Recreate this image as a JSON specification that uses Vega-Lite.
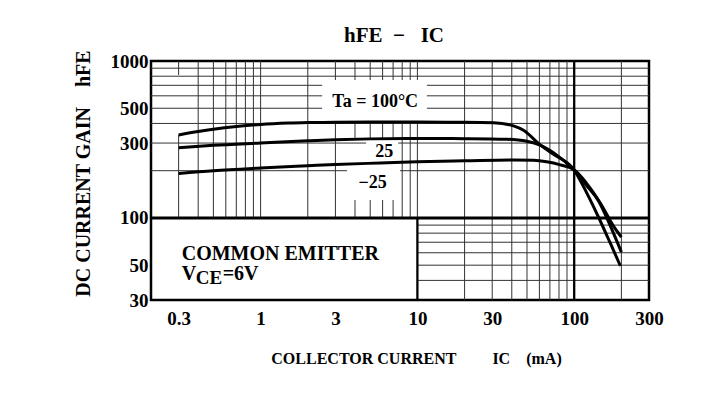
{
  "$schema": "https://vega.github.io/schema/vega-lite/v6.json",
  "width": 498,
  "height": 239,
  "autosize": {"type": "none"},
  "padding": {"left": 151, "top": 61, "right": 72, "bottom": 94},
  "background": "white",
  "config": {"view": {"stroke": "black", "strokeWidth": 2.5}, "font": "Liberation Serif"},
  "title": {"text": "hFE\u00a0\u00a0−\u00a0\u00a0\u00a0IC", "font": "Liberation Serif", "fontSize": 21, "fontWeight": "bold", "color": "black", "offset": 4, "dx": -6},
  "datasets": {
    "vgrid": [
      {"x": 0.3, "y": 814, "y2": 1000}, {"x": 0.3, "y": 100, "y2": 338},
      {"x": 0.4, "y": 100, "y2": 1000}, {"x": 0.5, "y": 100, "y2": 1000}, {"x": 0.6, "y": 100, "y2": 1000},
      {"x": 0.7, "y": 100, "y2": 1000}, {"x": 0.8, "y": 100, "y2": 1000}, {"x": 0.9, "y": 100, "y2": 1000},
      {"x": 1, "y": 100, "y2": 1000}, {"x": 2, "y": 100, "y2": 1000},
      {"x": 3, "y": 757, "y2": 1000}, {"x": 3, "y": 100, "y2": 409},
      {"x": 4, "y": 757, "y2": 1000}, {"x": 4, "y": 314, "y2": 403}, {"x": 4, "y": 100, "y2": 130},
      {"x": 5, "y": 757, "y2": 1000}, {"x": 5, "y": 314, "y2": 403}, {"x": 5, "y": 100, "y2": 130},
      {"x": 6, "y": 757, "y2": 1000}, {"x": 6, "y": 314, "y2": 403}, {"x": 6, "y": 100, "y2": 130},
      {"x": 7, "y": 757, "y2": 1000}, {"x": 7, "y": 314, "y2": 403}, {"x": 7, "y": 100, "y2": 130},
      {"x": 8, "y": 757, "y2": 1000}, {"x": 8, "y": 100, "y2": 409},
      {"x": 9, "y": 757, "y2": 1000}, {"x": 9, "y": 100, "y2": 409},
      {"x": 10, "y": 757, "y2": 1000}, {"x": 10, "y": 100, "y2": 409},
      {"x": 20, "y": 30, "y2": 1000}, {"x": 30, "y": 30, "y2": 1000}, {"x": 40, "y": 30, "y2": 1000},
      {"x": 50, "y": 30, "y2": 1000}, {"x": 60, "y": 30, "y2": 1000}, {"x": 70, "y": 30, "y2": 1000},
      {"x": 80, "y": 30, "y2": 1000}, {"x": 90, "y": 30, "y2": 1000}, {"x": 200, "y": 30, "y2": 1000}
    ],
    "vmajor": [
      {"x": 10, "y": 30, "y2": 100}, {"x": 100, "y": 30, "y2": 1000}
    ],
    "hgrid": [
      {"y": 900, "x": 0.2, "x2": 300}, {"y": 800, "x": 0.2, "x2": 300}, {"y": 400, "x": 0.2, "x2": 300},
      {"y": 700, "x": 0.2, "x2": 2.47}, {"y": 700, "x": 11.5, "x2": 300},
      {"y": 600, "x": 0.2, "x2": 2.47}, {"y": 600, "x": 11.5, "x2": 300},
      {"y": 500, "x": 0.2, "x2": 2.47}, {"y": 500, "x": 11.5, "x2": 300},
      {"y": 300, "x": 0.2, "x2": 4.71}, {"y": 300, "x": 7.55, "x2": 300},
      {"y": 200, "x": 0.2, "x2": 3.56}, {"y": 200, "x": 7.75, "x2": 300},
      {"y": 90, "x": 10, "x2": 300}, {"y": 80, "x": 10, "x2": 300}, {"y": 70, "x": 10, "x2": 300},
      {"y": 60, "x": 10, "x2": 300}, {"y": 50, "x": 10, "x2": 300}, {"y": 40, "x": 10, "x2": 300}
    ],
    "hmajor": [
      {"y": 100, "x": 0.2, "x2": 300}
    ],
    "curves": [
      {"series": "100", "x": 0.3, "y": 338}, {"series": "100", "x": 0.4, "y": 355}, {"series": "100", "x": 0.5, "y": 367},
      {"series": "100", "x": 0.7, "y": 382}, {"series": "100", "x": 1, "y": 394}, {"series": "100", "x": 1.5, "y": 402},
      {"series": "100", "x": 2, "y": 405}, {"series": "100", "x": 3, "y": 407}, {"series": "100", "x": 5, "y": 408},
      {"series": "100", "x": 10, "y": 408}, {"series": "100", "x": 20, "y": 407}, {"series": "100", "x": 30.6, "y": 404},
      {"series": "100", "x": 41, "y": 386}, {"series": "100", "x": 47.5, "y": 362}, {"series": "100", "x": 60.7, "y": 292},
      {"series": "100", "x": 73.8, "y": 254}, {"series": "100", "x": 99, "y": 205}, {"series": "100", "x": 120, "y": 145},
      {"series": "100", "x": 143, "y": 101}, {"series": "100", "x": 170, "y": 69}, {"series": "100", "x": 197, "y": 49.5},
      {"series": "25", "x": 0.3, "y": 280}, {"series": "25", "x": 0.5, "y": 290}, {"series": "25", "x": 1, "y": 300},
      {"series": "25", "x": 2, "y": 310}, {"series": "25", "x": 3, "y": 315}, {"series": "25", "x": 5, "y": 319},
      {"series": "25", "x": 10, "y": 321}, {"series": "25", "x": 20, "y": 320}, {"series": "25", "x": 37.2, "y": 317},
      {"series": "25", "x": 49.9, "y": 308}, {"series": "25", "x": 60.7, "y": 291}, {"series": "25", "x": 73.8, "y": 260},
      {"series": "25", "x": 99, "y": 203}, {"series": "25", "x": 120, "y": 161}, {"series": "25", "x": 143, "y": 128},
      {"series": "25", "x": 170, "y": 89}, {"series": "25", "x": 200, "y": 60.5},
      {"series": "-25", "x": 0.3, "y": 192}, {"series": "-25", "x": 0.5, "y": 200}, {"series": "-25", "x": 1, "y": 208},
      {"series": "-25", "x": 2, "y": 215}, {"series": "-25", "x": 3, "y": 219}, {"series": "-25", "x": 5.8, "y": 224},
      {"series": "-25", "x": 10, "y": 228}, {"series": "-25", "x": 20, "y": 231}, {"series": "-25", "x": 41, "y": 234},
      {"series": "-25", "x": 55, "y": 233}, {"series": "-25", "x": 66.7, "y": 228}, {"series": "-25", "x": 81.5, "y": 218},
      {"series": "-25", "x": 99, "y": 204}, {"series": "-25", "x": 120, "y": 166}, {"series": "-25", "x": 147, "y": 124},
      {"series": "-25", "x": 179, "y": 88}, {"series": "-25", "x": 200, "y": 75.4}
    ],
    "centerLabels": [
      {"x": 5.38, "y": 548, "label": "Ta = 100°C"},
      {"x": 6.14, "y": 265, "label": "25"},
      {"x": 5.18, "y": 168, "label": "−25"}
    ],
    "boxLabels": [
      {"x": 0.314, "y": 54, "label": "COMMON EMITTER"}
    ],
    "vce": [
      {"x": 0.314, "y": 40.3}
    ]
  },
  "encoding": {
    "x": {
      "field": "x", "type": "quantitative",
      "scale": {"type": "log", "domain": [0.2, 300]},
      "axis": {
        "values": [0.3, 1, 3, 10, 30, 100, 300], "format": "~g",
        "ticks": false, "grid": false, "domain": false,
        "labelFont": "Liberation Serif", "labelFontSize": 19, "labelFontWeight": "bold", "labelColor": "black",
        "labelFlush": false, "labelOverlap": false, "labelPadding": 9,
        "title": "COLLECTOR CURRENT\u00a0\u00a0\u00a0\u00a0\u00a0\u00a0\u00a0\u00a0\u00a0IC\u00a0\u00a0\u00a0\u00a0(mA)",
        "titleFont": "Liberation Serif", "titleFontSize": 16, "titleFontWeight": "bold", "titleColor": "black",
        "titlePadding": 22, "titleX": 265
      }
    },
    "y": {
      "field": "y", "type": "quantitative",
      "scale": {"type": "log", "domain": [30, 1000]},
      "axis": {
        "values": [30, 50, 100, 300, 500, 1000], "format": "~g",
        "ticks": false, "grid": false, "domain": false,
        "labelFont": "Liberation Serif", "labelFontSize": 19, "labelFontWeight": "bold", "labelColor": "black",
        "labelFlush": false, "labelOverlap": false, "labelPadding": 3,
        "title": "DC CURRENT GAIN\u00a0\u00a0\u00a0\u00a0hFE",
        "titleFont": "Liberation Serif", "titleFontSize": 20, "titleFontWeight": "bold", "titleColor": "black",
        "titlePadding": 17, "titleY": 112
      }
    }
  },
  "layer": [
    {
      "data": {"name": "vgrid"},
      "mark": {"type": "rule", "color": "#333333", "strokeWidth": 1},
      "encoding": {"y2": {"field": "y2"}}
    },
    {
      "data": {"name": "hgrid"},
      "mark": {"type": "rule", "color": "#333333", "strokeWidth": 1},
      "encoding": {"x2": {"field": "x2"}}
    },
    {
      "data": {"name": "vmajor"},
      "mark": {"type": "rule", "color": "black", "strokeWidth": 2.3},
      "encoding": {"y2": {"field": "y2"}}
    },
    {
      "data": {"name": "hmajor"},
      "mark": {"type": "rule", "color": "black", "strokeWidth": 3},
      "encoding": {"x2": {"field": "x2"}}
    },
    {
      "data": {"name": "curves"},
      "mark": {"type": "line", "color": "black", "strokeWidth": 3, "interpolate": "monotone"},
      "encoding": {"detail": {"field": "series"}}
    },
    {
      "data": {"name": "centerLabels"},
      "mark": {"type": "text", "font": "Liberation Serif", "fontSize": 18, "fontWeight": "bold", "color": "black", "align": "center", "baseline": "middle"},
      "encoding": {"text": {"field": "label"}}
    },
    {
      "data": {"name": "boxLabels"},
      "mark": {"type": "text", "font": "Liberation Serif", "fontSize": 20, "fontWeight": "bold", "color": "black", "align": "left", "baseline": "alphabetic"},
      "encoding": {"text": {"field": "label"}}
    },
    {
      "data": {"name": "vce"},
      "mark": {"type": "text", "font": "Liberation Serif", "fontSize": 20, "fontWeight": "bold", "color": "black", "align": "left", "baseline": "alphabetic"},
      "encoding": {"text": {"value": "V"}}
    },
    {
      "data": {"name": "vce"},
      "mark": {"type": "text", "font": "Liberation Serif", "fontSize": 19, "fontWeight": "bold", "color": "black", "align": "left", "baseline": "alphabetic", "dx": 14, "dy": 4},
      "encoding": {"text": {"value": "CE"}}
    },
    {
      "data": {"name": "vce"},
      "mark": {"type": "text", "font": "Liberation Serif", "fontSize": 20, "fontWeight": "bold", "color": "black", "align": "left", "baseline": "alphabetic", "dx": 41},
      "encoding": {"text": {"value": "=6V"}}
    }
  ]
}
